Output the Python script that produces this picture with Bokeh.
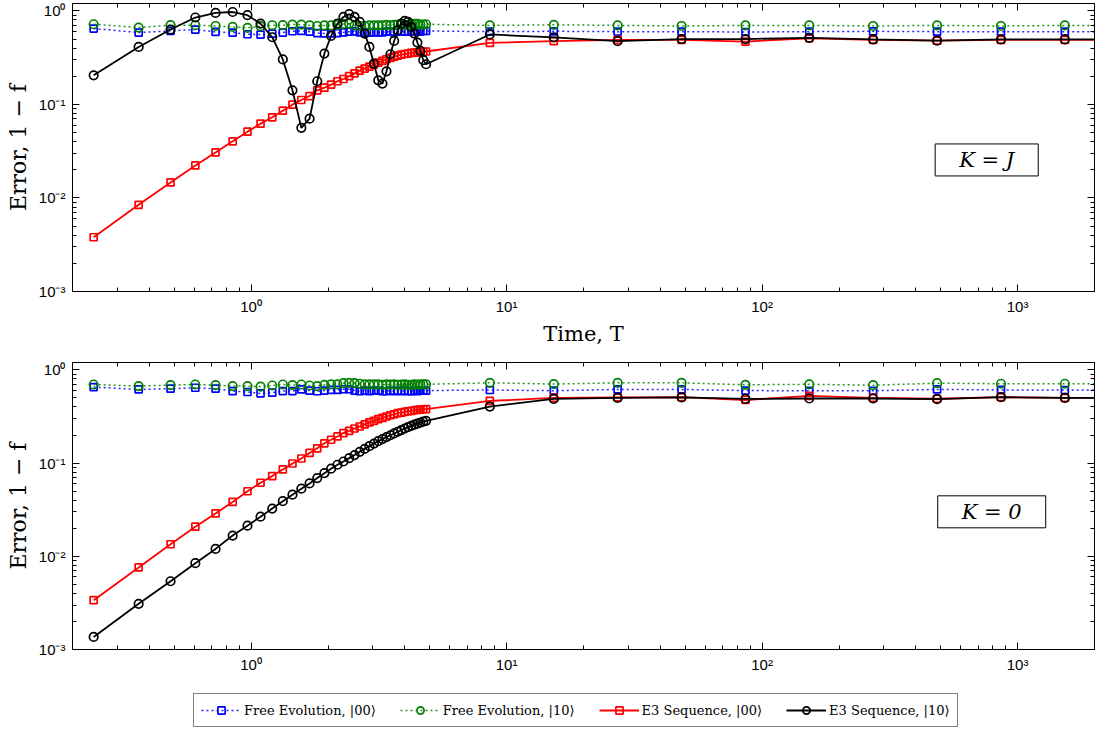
from bokeh.plotting import figure
from bokeh.models import (LogAxis, LogTicker, CustomJSTickFormatter, Label, Legend,
                          LegendItem, Range1d)
from bokeh.layouts import column
from bokeh.embed import file_html
from bokeh.resources import INLINE

# ---------------- data ----------------
time_T = [0.242, 0.363, 0.484, 0.605, 0.726, 0.847, 0.968, 1.089, 1.21, 1.331,
          1.452, 1.573, 1.694, 1.815, 1.936, 2.057, 2.178, 2.299, 2.42, 2.541,
          2.662, 2.783, 2.904, 3.025, 3.146, 3.267, 3.388, 3.509, 3.63, 3.751,
          3.872, 3.993, 4.114, 4.235, 4.356, 4.477, 4.598, 4.719, 4.84,
          8.6, 15.3, 27.2, 48.4, 86.1, 153, 272, 484, 861, 1531, 2722]

# Panel 1: K = J
kj_free00 = [0.648, 0.587, 0.611, 0.632, 0.596, 0.587, 0.563, 0.558, 0.573, 0.587,
             0.606, 0.611, 0.60, 0.58, 0.575, 0.575, 0.58, 0.59, 0.60, 0.605,
             0.59, 0.585, 0.585, 0.59, 0.59, 0.59, 0.60, 0.60, 0.59, 0.60,
             0.60, 0.60, 0.60, 0.605, 0.61, 0.60, 0.605, 0.61, 0.61,
             0.60, 0.605, 0.60, 0.60, 0.595, 0.60, 0.605, 0.60, 0.60, 0.60, 0.60]
kj_free10 = [0.72, 0.664, 0.703, 0.703, 0.69, 0.674, 0.658, 0.686, 0.703, 0.703,
             0.715, 0.715, 0.70, 0.69, 0.70, 0.70, 0.71, 0.725, 0.73, 0.70,
             0.69, 0.69, 0.70, 0.70, 0.70, 0.70, 0.71, 0.70, 0.71, 0.715,
             0.715, 0.71, 0.71, 0.725, 0.725, 0.725, 0.715, 0.715, 0.72,
             0.70, 0.71, 0.70, 0.69, 0.70, 0.70, 0.69, 0.70, 0.69, 0.70, 0.70]
kj_e3_00 = [0.0038, 0.00845, 0.01465, 0.0223, 0.0307, 0.0403, 0.0512, 0.0623, 0.0728, 0.0858,
            0.0995, 0.1115, 0.123, 0.1416, 0.151, 0.163, 0.177, 0.187, 0.201, 0.215,
            0.230, 0.242, 0.254, 0.267, 0.280, 0.292, 0.304, 0.314, 0.325, 0.333,
            0.341, 0.346, 0.35, 0.355, 0.358, 0.361, 0.364, 0.366, 0.368,
            0.455, 0.475, 0.49, 0.49, 0.47, 0.51, 0.49, 0.48, 0.49, 0.49, 0.49]
kj_e3_10 = [0.205, 0.412, 0.632, 0.85, 0.952, 0.973, 0.90, 0.73, 0.523, 0.303,
            0.1416, 0.0562, 0.0705, 0.177, 0.35, 0.54, 0.733, 0.862, 0.922, 0.862,
            0.762, 0.573, 0.412, 0.273, 0.181, 0.167, 0.226, 0.344, 0.477, 0.621,
            0.733, 0.782, 0.763, 0.674, 0.573, 0.459, 0.373, 0.297, 0.269,
            0.56, 0.52, 0.475, 0.50, 0.50, 0.515, 0.495, 0.48, 0.495, 0.495, 0.495]

# Panel 2: K = 0
k0_free00 = [0.654, 0.617, 0.628, 0.643, 0.628, 0.593, 0.579, 0.559, 0.569, 0.593,
             0.593, 0.617, 0.60, 0.59, 0.60, 0.61, 0.61, 0.62, 0.62, 0.60,
             0.59, 0.60, 0.59, 0.60, 0.60, 0.59, 0.59, 0.60, 0.59, 0.60,
             0.59, 0.60, 0.59, 0.59, 0.60, 0.59, 0.60, 0.60, 0.60,
             0.608, 0.598, 0.617, 0.617, 0.60, 0.597, 0.597, 0.617, 0.61, 0.607, 0.607]
k0_free10 = [0.697, 0.67, 0.687, 0.697, 0.687, 0.67, 0.67, 0.66, 0.68, 0.697,
             0.687, 0.697, 0.68, 0.67, 0.69, 0.70, 0.70, 0.72, 0.725, 0.72,
             0.71, 0.70, 0.70, 0.70, 0.70, 0.69, 0.70, 0.695, 0.70, 0.69,
             0.695, 0.70, 0.69, 0.69, 0.70, 0.695, 0.70, 0.70, 0.70,
             0.727, 0.704, 0.727, 0.727, 0.692, 0.70, 0.685, 0.72, 0.71, 0.71, 0.71]
k0_e3_00 = [0.00338, 0.0076, 0.01346, 0.0208, 0.0288, 0.0383, 0.0499, 0.0615, 0.0725, 0.0855,
            0.099, 0.112, 0.1285, 0.144, 0.163, 0.178, 0.193, 0.21, 0.222, 0.235,
            0.247, 0.26, 0.273, 0.284, 0.296, 0.306, 0.316, 0.326, 0.334, 0.343,
            0.348, 0.354, 0.36, 0.363, 0.369, 0.372, 0.375, 0.378, 0.38,
            0.464, 0.50, 0.506, 0.51, 0.475, 0.525, 0.50, 0.49, 0.51, 0.50, 0.50]
k0_e3_10 = [0.001365, 0.00309, 0.0054, 0.00844, 0.012, 0.0167, 0.0213, 0.0266, 0.0325, 0.039,
            0.0458, 0.0531, 0.0605, 0.069, 0.078, 0.087, 0.096, 0.104, 0.113, 0.122,
            0.132, 0.142, 0.152, 0.162, 0.172, 0.181, 0.19, 0.199, 0.208, 0.217,
            0.226, 0.235, 0.243, 0.251, 0.258, 0.265, 0.272, 0.278, 0.284,
            0.404, 0.488, 0.50, 0.507, 0.488, 0.493, 0.493, 0.485, 0.51, 0.50, 0.50]

legend_labels = ["Free Evolution, |00\u27e9", "Free Evolution, |10\u27e9",
                 "E3 Sequence, |00\u27e9", "E3 Sequence, |10\u27e9"]
panel_tags = ["K = J", "K = 0"]
tag_pos_T = [757, 792]
tag_pos_err = [0.0255, 0.030]

# ---------------- styling helpers ----------------
SUP = CustomJSTickFormatter(code="""
const e = Math.round(Math.log10(tick));
const m = {'-':'\u207b','0':'\u2070','1':'\u00b9','2':'\u00b2','3':'\u00b3',
           '4':'\u2074','5':'\u2075','6':'\u2076','7':'\u2077','8':'\u2078','9':'\u2079'};
return '10' + String(e).split('').map(c => m[c]).join('');
""")

STYLES = [
    dict(color="#0000ff", marker="square", size=7, dash="2 3", lw=1.5, alpha=0.85),
    dict(color="#008000", marker="circle", size=8.5, dash="2 3", lw=1.5, alpha=0.85),
    dict(color="#ff0000", marker="square", size=7, dash="solid", lw=1.8, alpha=1.0),
    dict(color="black", marker="circle", size=8.5, dash="solid", lw=1.8, alpha=1.0),
]


def draw_series(p, vals):
    out = []
    for v, st in zip(vals, STYLES):
        ln = p.line(time_T, v, line_color=st["color"], line_width=st["lw"],
                    line_dash=st["dash"], line_alpha=st["alpha"])
        sc = p.scatter(time_T, v, marker=st["marker"], size=st["size"],
                       line_color=st["color"], line_width=1.7, fill_color=None)
        out.append((ln, sc))
    return out


def style_axis(ax, show_labels=True):
    ax.major_tick_in = 7
    ax.major_tick_out = 0
    ax.minor_tick_in = 4
    ax.minor_tick_out = 0
    ax.axis_line_color = "black"
    ax.major_tick_line_color = "black"
    ax.minor_tick_line_color = "black"
    if show_labels:
        ax.formatter = SUP
        ax.major_label_text_font = "Liberation Sans"
        ax.major_label_text_font_size = "15px"
        ax.major_label_text_color = "black"
    else:
        ax.major_label_text_font_size = "1px"
        ax.major_label_text_alpha = 0
        ax.major_label_standoff = 0


def make_panel(vals, tag, tag_x, tag_y, top_border, frame_h, bottom_border):
    p = figure(x_axis_type="log", y_axis_type="log",
               x_range=Range1d(0.2, 2000), y_range=Range1d(1e-3, 1.2),
               frame_width=1022, frame_height=frame_h,
               min_border_left=72, min_border_right=2,
               min_border_top=top_border, min_border_bottom=bottom_border,
               output_backend="svg", toolbar_location=None)
    p.xgrid.visible = False
    p.ygrid.visible = False
    p.outline_line_color = "black"
    p.background_fill_color = "white"
    p.border_fill_color = "white"

    bx = p.below[0]
    ly = p.left[0]
    style_axis(bx)
    style_axis(ly)
    bx.major_label_standoff = 6
    ly.major_label_standoff = 7
    ly.axis_label = "Error, 1 \u2212 f"
    ly.axis_label_text_font = "DejaVu Serif"
    ly.axis_label_text_font_size = "22px"
    ly.axis_label_text_font_style = "normal"
    ly.axis_label_text_color = "black"
    ly.axis_label_standoff = 5

    ra = LogAxis(ticker=LogTicker(num_minor_ticks=10))
    style_axis(ra, show_labels=False)
    p.add_layout(ra, "right")
    ta = LogAxis(ticker=LogTicker(num_minor_ticks=10))
    style_axis(ta, show_labels=False)
    p.add_layout(ta, "above")

    r = draw_series(p, vals)

    lab = Label(x=tag_x, y=tag_y, text=tag, text_font="DejaVu Serif",
                text_font_style="italic", text_font_size="21px", text_color="black",
                text_align="center", text_baseline="middle",
                border_line_color="black", border_line_width=1,
                background_fill_color="white", padding=(24, 4))
    p.add_layout(lab)
    return p, r, bx


p1, r1, bx1 = make_panel((kj_free00, kj_free10, kj_e3_00, kj_e3_10), panel_tags[0],
                         tag_pos_T[0], tag_pos_err[0], 3, 288, 52)
bx1.axis_label = "Time, T"
bx1.axis_label_text_font = "DejaVu Serif"
bx1.axis_label_text_font_size = "21px"
bx1.axis_label_text_font_style = "normal"
bx1.axis_label_text_color = "black"
bx1.axis_label_standoff = 4

p2, r2, bx2 = make_panel((k0_free00, k0_free10, k0_e3_00, k0_e3_10), panel_tags[1],
                         tag_pos_T[1], tag_pos_err[1], 14, 287, 24)

# legend strip: its own figure whose frame holds the legend (series lie outside its y-range)
p3 = figure(x_axis_type="log", x_range=Range1d(0.2, 2000), y_range=Range1d(5, 6),
            frame_width=1022, frame_height=56,
            min_border_left=72, min_border_right=2, min_border_top=0, min_border_bottom=0,
            x_axis_location=None, y_axis_location=None,
            output_backend="svg", toolbar_location=None)
p3.xgrid.visible = False
p3.ygrid.visible = False
p3.outline_line_color = None
p3.background_fill_color = "white"
p3.border_fill_color = "white"
r3 = draw_series(p3, (k0_free00, k0_free10, k0_e3_00, k0_e3_10))

items = [LegendItem(label=legend_labels[i], renderers=list(r3[i])) for i in range(4)]
legend = Legend(items=items, orientation="horizontal", location=(121, 4),
                border_line_color="black", border_line_width=1,
                background_fill_color="white", background_fill_alpha=1,
                label_text_font="DejaVu Serif", label_text_font_size="13px",
                label_text_color="black",
                glyph_width=40, glyph_height=18, label_standoff=3, spacing=24,
                padding=7, margin=0)
p3.add_layout(legend)

layout = column(p1, p2, p3, spacing=0)
open("out.html", "w").write(file_html(layout, INLINE))
